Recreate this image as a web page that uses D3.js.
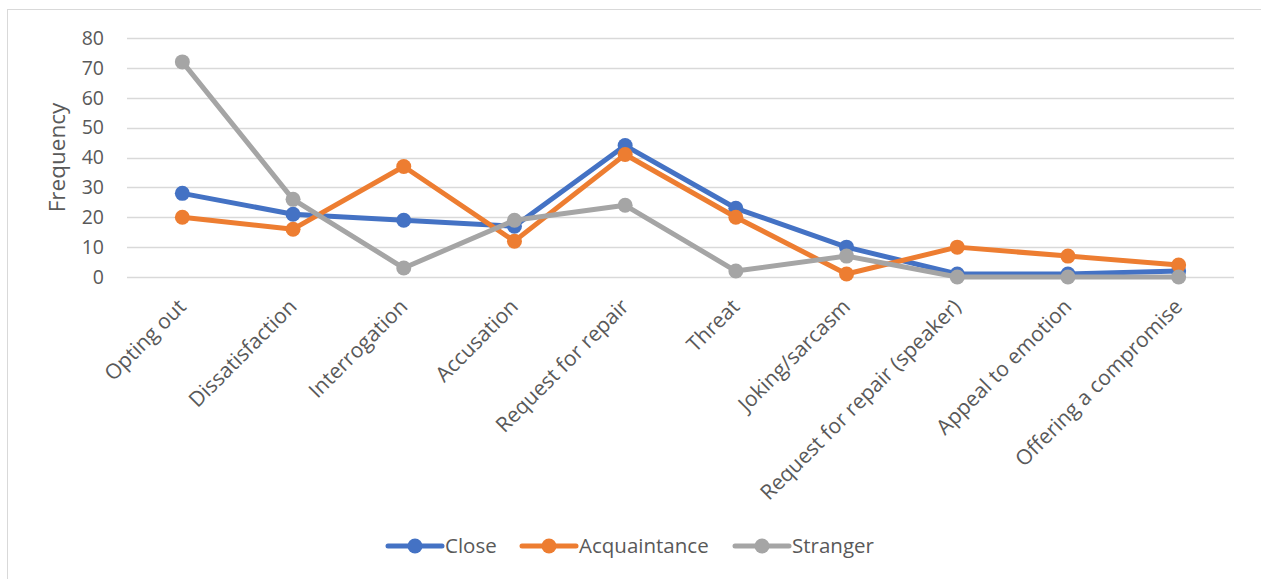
<!DOCTYPE html>
<html>
<head>
<meta charset="utf-8">
<script src="https://cdn.jsdelivr.net/npm/d3@7"></script>
<style>
  html, body { margin: 0; padding: 0; background: #fff; }
  svg { display: block; font-family: "Open Sans", "Noto Sans", sans-serif; }
</style>
</head>
<body>
<svg id="chart" width="1261" height="579"></svg>
<script>
// Response strategy frequencies by relationship distance
const categories = [
  "Opting out", "Dissatisfaction", "Interrogation", "Accusation", "Request for repair",
  "Threat", "Joking/sarcasm", "Request for repair (speaker)", "Appeal to emotion", "Offering a compromise"
];
const closeValues        = [28, 21, 19, 17, 44, 23, 10, 1, 1, 2];
const acquaintanceValues = [20, 16, 37, 12, 41, 20, 1, 10, 7, 4];
const strangerValues     = [72, 26, 3, 19, 24, 2, 7, 0, 0, 0];
const yTicks = [0, 10, 20, 30, 40, 50, 60, 70, 80];
const seriesNames = ["Close", "Acquaintance", "Stranger"];
const seriesColors = ["#4472C4", "#ED7D31", "#A5A5A5"];

const series = [
  { name: seriesNames[0], values: closeValues, color: seriesColors[0] },
  { name: seriesNames[1], values: acquaintanceValues, color: seriesColors[1] },
  { name: seriesNames[2], values: strangerValues, color: seriesColors[2] }
];

const svg = d3.select("#chart");
const plot = { left: 127, right: 1234, top: 38, bottom: 277 };
const textColor = "#595959";
const font = "'Open Sans', 'Noto Sans', sans-serif";

// Chart frame (runs past the right and bottom edges)
svg.append("rect")
  .attr("x", 7.5).attr("y", 9.5)
  .attr("width", 1300).attr("height", 600)
  .attr("fill", "#fff").attr("stroke", "#D9D9D9").attr("stroke-width", 1);

const x = d3.scaleBand().domain(categories).range([plot.left, plot.right]);
const y = d3.scaleLinear().domain([0, 80]).range([plot.bottom, plot.top]);
const cx = c => x(c) + x.bandwidth() / 2;

// Gridlines
svg.append("g").selectAll("line").data(yTicks).join("line")
  .attr("x1", plot.left).attr("x2", plot.right)
  .attr("y1", d => Math.round(y(d)) + 0.5).attr("y2", d => Math.round(y(d)) + 0.5)
  .attr("stroke", "#D9D9D9").attr("stroke-width", 1.5);

// Y axis labels
const yAxis = d3.axisLeft(y).tickValues(yTicks).tickSize(0).tickPadding(0);
const gy = svg.append("g").attr("transform", `translate(${plot.left - 23},0)`).call(yAxis);
gy.select(".domain").remove();
gy.selectAll("text").attr("fill", textColor).attr("font-size", 19.5)
  .attr("font-family", font);

// Y axis title
svg.append("text")
  .attr("transform", `translate(65,${(plot.top + plot.bottom) / 2}) rotate(-90)`)
  .attr("text-anchor", "middle")
  .attr("fill", textColor).attr("font-size", 22.5)
  .text("Frequency");

// Category labels, rotated
const xAxis = d3.axisBottom(x).tickSize(0).tickPadding(0);
const gx = svg.append("g").attr("transform", `translate(0,${plot.bottom})`).call(xAxis);
gx.select(".domain").remove();
gx.selectAll("text")
  .attr("fill", textColor).attr("font-size", 21)
  .attr("font-family", font)
  .attr("text-anchor", "end")
  .attr("dy", 0)
  .attr("y", 0)
  .attr("transform", "translate(5,31) rotate(-45)");

// Lines and markers
const line = d3.line().x((d, i) => cx(categories[i])).y(d => y(d));
const gs = svg.append("g").selectAll("g").data(series).join("g");
gs.append("path")
  .attr("d", d => line(d.values))
  .attr("fill", "none").attr("stroke", d => d.color)
  .attr("stroke-width", 5).attr("stroke-linejoin", "round").attr("stroke-linecap", "round");
gs.selectAll("circle").data(d => d.values.map((v, i) => ({ v, i, color: d.color }))).join("circle")
  .attr("cx", d => cx(categories[d.i])).attr("cy", d => y(d.v))
  .attr("r", 7.5).attr("fill", d => d.color);

// Legend
const legendX = [388, 522, 735];
const legendY = 546;
const lg = svg.append("g").selectAll("g").data(series).join("g")
  .attr("transform", (d, i) => `translate(${legendX[i]},${legendY})`);
lg.append("line").attr("x1", 0).attr("x2", 54).attr("y1", 0).attr("y2", 0)
  .attr("stroke", d => d.color).attr("stroke-width", 5).attr("stroke-linecap", "round");
lg.append("circle").attr("cx", 27).attr("cy", 0).attr("r", 7.5).attr("fill", d => d.color);
lg.append("text").attr("x", 57).attr("y", 0).attr("dy", "0.35em")
  .attr("fill", textColor).attr("font-size", 20.5)
  .text(d => d.name);
</script>
</body>
</html>
